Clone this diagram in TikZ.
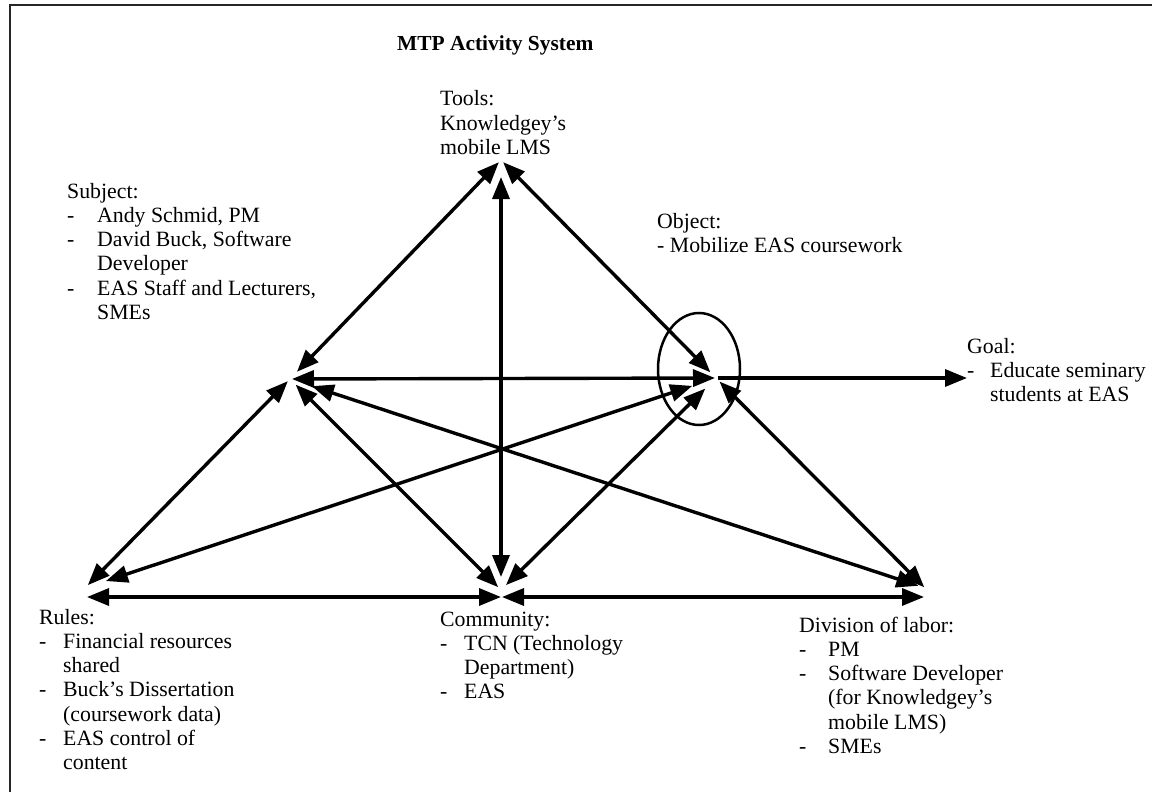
\documentclass[tikz,border=0pt]{standalone}
\usepackage{fontspec}
\setmainfont{Liberation Serif}
\usetikzlibrary{arrows.meta}

% indented list rows: a dash in a fixed-width column, then the text
\newlength\dashcol
\newcommand\itemrow[1]{\makebox[\dashcol][l]{-}#1}
\newcommand\itemcont[1]{\hspace*{\dashcol}#1}

\begin{document}
\begin{tikzpicture}[x=1pt,y=-1pt,
  blk/.style={anchor=base west, inner sep=0pt, font=\fontsize{21.8}{24.3}\selectfont},
  link/.style={line width=3.4pt, {Triangle[length=22pt,width=17pt]}-{Triangle[length=22pt,width=17pt]}},
  goalarrow/.style={line width=3.4pt, -{Triangle[length=22pt,width=17pt]}},
  frame/.style={line width=1.6pt, black!85}]
\useasboundingbox (0,0) rectangle (1152,792);

% outer frame
\draw[frame] (10,792) -- (10,5) -- (1152,5);

% title
\node[blk, font=\fontsize{21.4}{24}\selectfont\bfseries] (title) at (397,51) {MTP Activity System};

% corners of the activity triangle
\coordinate (T) at (501,160);
\coordinate (S) at (290,379);
\coordinate (O) at (716,378);
\coordinate (R) at (85,588);
\coordinate (C) at (501,590);
\coordinate (D) at (925,588);
\coordinate (G) at (967,378);

% object focus
\draw[line width=2.5pt] (699,369) ellipse [x radius=41, y radius=56];

% connectors
\draw[link, shorten <=10pt, shorten >=3pt] (S) -- (T);
\draw[link, shorten <=17pt, shorten >=13pt] (T) -- (C);
\draw[link, shorten <=3pt, shorten >=8pt] (T) -- (O);
\draw[link, shorten <=2pt, shorten >=1pt] (S) -- (O);
\draw[goalarrow, shorten <=2pt] (O) -- (G);
\draw[link, shorten <=3pt, shorten >=4pt] (S) -- (R);
\draw[link, shorten <=8pt, shorten >=4pt] (S) -- (C);
\draw[link, shorten <=23pt, shorten >=7pt] (S) -- (D);
\draw[link, shorten <=25pt, shorten >=22pt] (O) -- (R);
\draw[link, shorten <=15pt, shorten >=7pt] (O) -- (C);
\draw[link, shorten <=5pt, shorten >=1pt] (O) -- (D);
\draw[link, shorten <=2pt, shorten >=0pt] ([yshift=-9pt]R) -- ([yshift=-7pt]C);
\draw[link, shorten <=1pt, shorten >=1pt] ([yshift=-7pt]C) -- ([yshift=-9pt]D);

% labels
\node[blk] (tools) at (440,106) {\begin{tabular}[t]{@{}l@{}}
Tools:\\
Knowledgey’s\\
mobile LMS
\end{tabular}};

\node[blk] (subject) at (67,198) {\setlength\dashcol{30pt}\begin{tabular}[t]{@{}l@{}}
Subject:\\
\itemrow{Andy Schmid, PM}\\
\itemrow{David Buck, Software}\\
\itemcont{Developer}\\
\itemrow{EAS Staff and Lecturers,}\\
\itemcont{SMEs}
\end{tabular}};

\node[blk] (object) at (657,228) {\begin{tabular}[t]{@{}l@{}}
Object:\\
- Mobilize EAS coursework
\end{tabular}};

\node[blk] (goal) at (967,353) {\setlength\dashcol{23pt}\begin{tabular}[t]{@{}l@{}}
Goal:\\
\itemrow{Educate seminary}\\
\itemcont{students at EAS}
\end{tabular}};

\node[blk] (rules) at (39,624) {\setlength\dashcol{24pt}\begin{tabular}[t]{@{}l@{}}
Rules:\\
\itemrow{Financial resources}\\
\itemcont{shared}\\
\itemrow{Buck’s Dissertation}\\
\itemcont{(coursework data)}\\
\itemrow{EAS control of}\\
\itemcont{content}
\end{tabular}};

\node[blk] (community) at (440,626) {\setlength\dashcol{24pt}\begin{tabular}[t]{@{}l@{}}
Community:\\
\itemrow{TCN (Technology}\\
\itemcont{Department)}\\
\itemrow{EAS}
\end{tabular}};

\node[blk] (division) at (799,632) {\setlength\dashcol{29pt}\begin{tabular}[t]{@{}l@{}}
Division of labor:\\
\itemrow{PM}\\
\itemrow{Software Developer}\\
\itemcont{(for Knowledgey’s}\\
\itemcont{mobile LMS)}\\
\itemrow{SMEs}
\end{tabular}};
\end{tikzpicture}
\end{document}
